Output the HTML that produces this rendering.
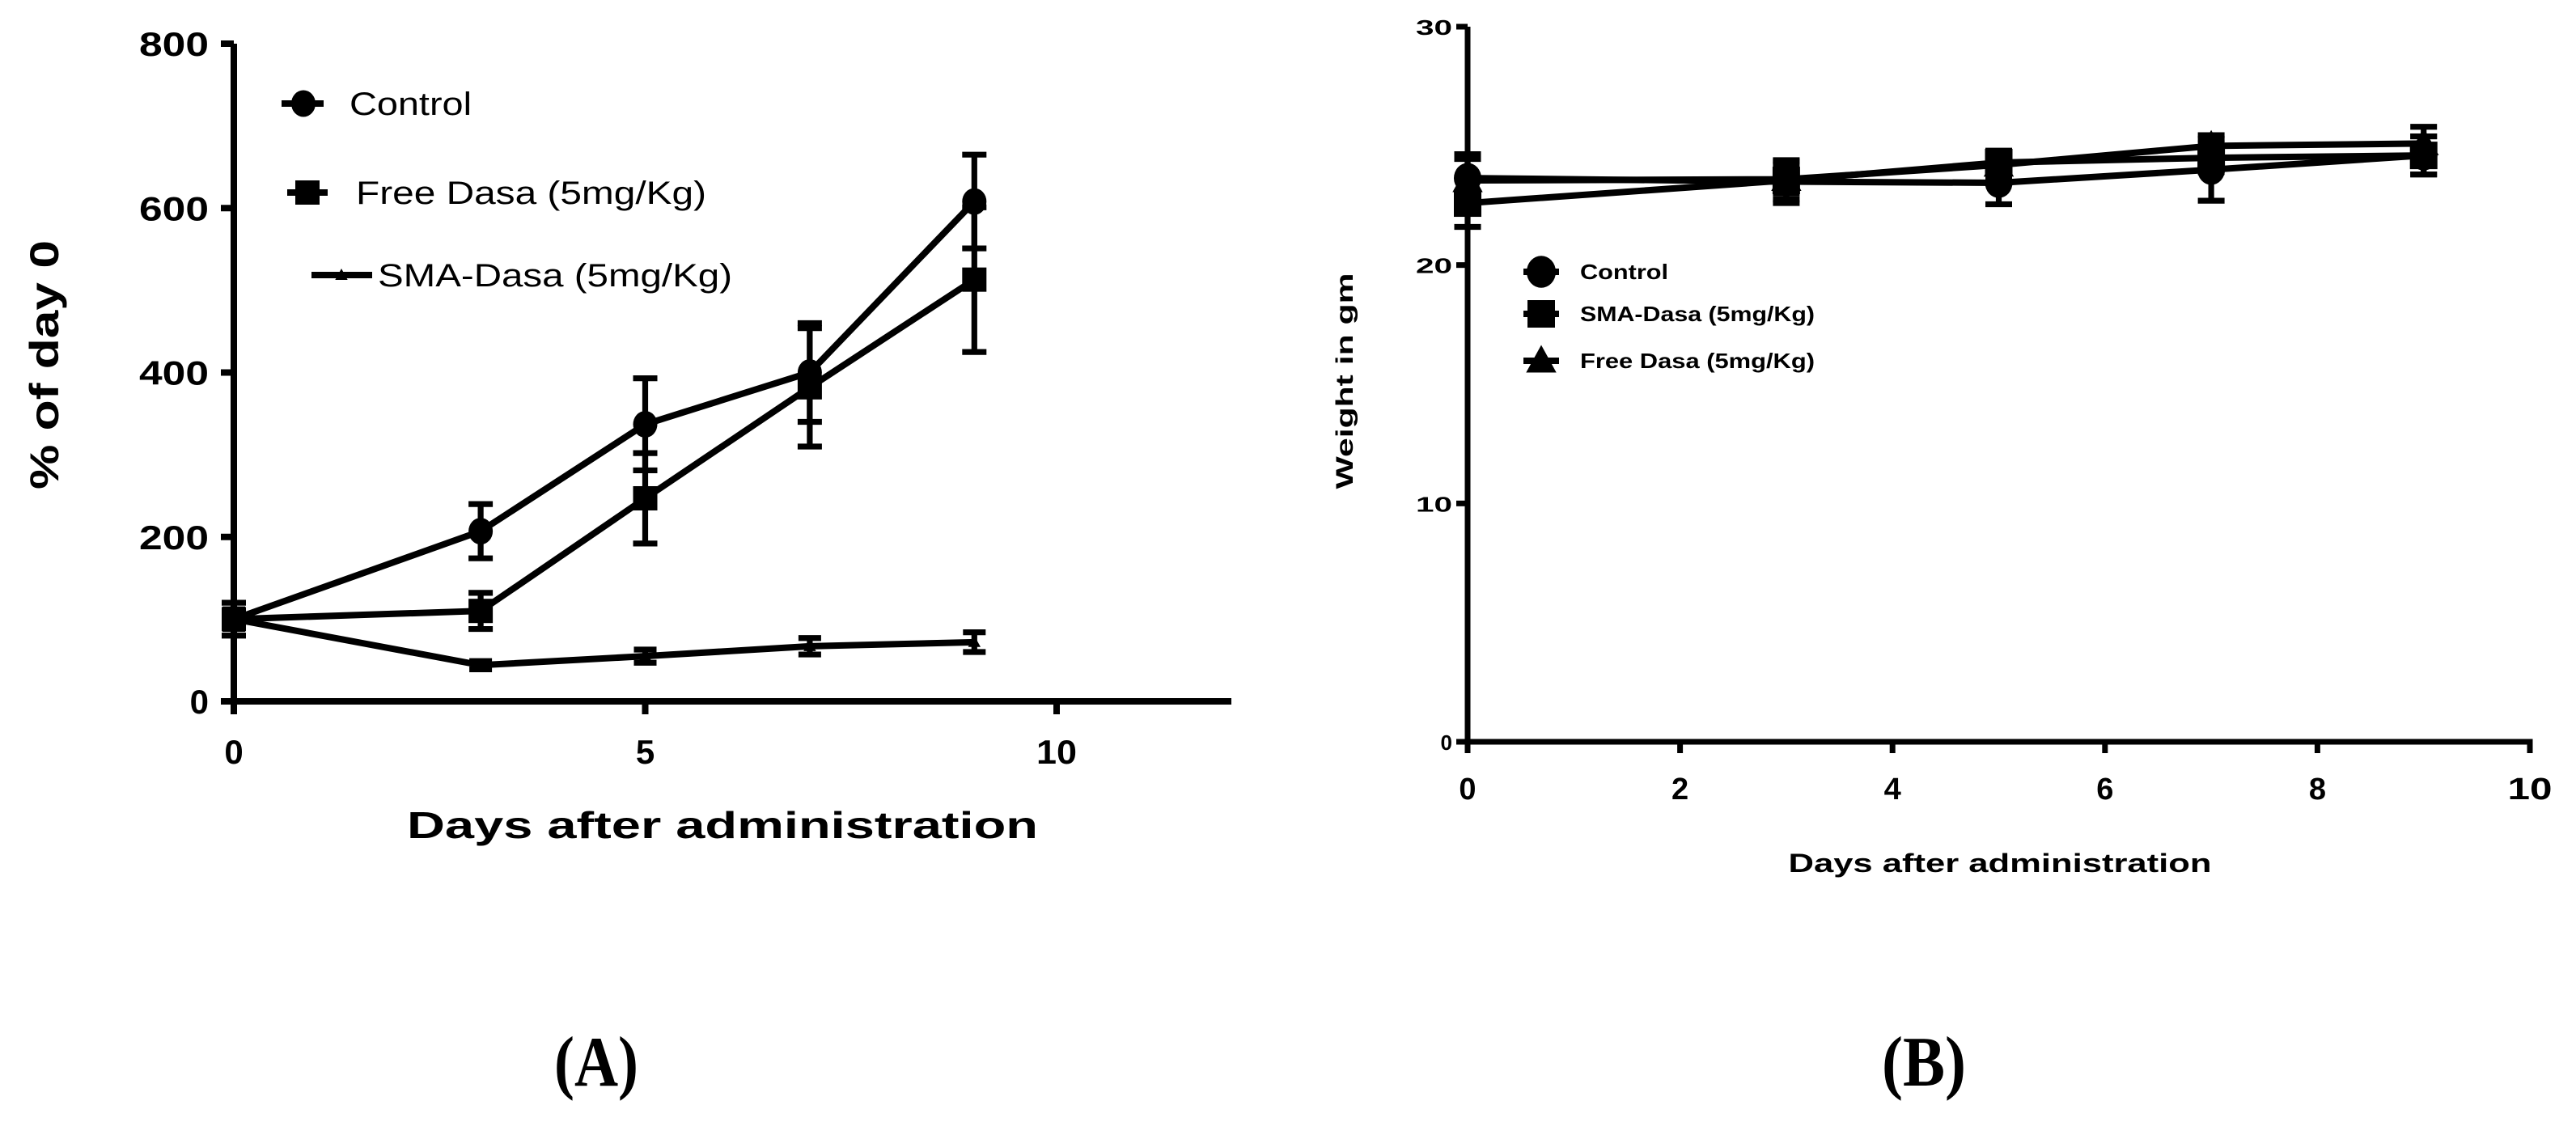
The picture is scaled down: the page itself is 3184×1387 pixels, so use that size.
<!DOCTYPE html>
<html><head><meta charset="utf-8"><style>
html,body{margin:0;padding:0;background:#fff;}
svg{display:block;}
text{font-family:"Liberation Sans",sans-serif;font-weight:bold;fill:#000;}
.lgA text{font-weight:normal;}
</style></head><body>
<svg id="fig" width="3184" height="1387" viewBox="0 0 3184 1387" xmlns="http://www.w3.org/2000/svg">
<g id="pa"></g>
<g id="pb"></g>
<text x="737" y="1342" font-family="Liberation Serif" font-size="88" text-anchor="middle" textLength="104" lengthAdjust="spacingAndGlyphs" style="font-family:'Liberation Serif',serif">(A)</text>
<text x="2378" y="1342" font-family="Liberation Serif" font-size="88" text-anchor="middle" textLength="104" lengthAdjust="spacingAndGlyphs" style="font-family:'Liberation Serif',serif">(B)</text>
</svg>
<script>
// Panel A data
const daysA = [0, 3, 5, 7, 9];
const ctrlA = [100, 207, 337, 400, 608];
const ctrlAerr = [20, 33, 56, 60, 57];
const freeA = [100, 110, 247, 382, 513];
const freeAerr = [20, 22, 55, 72, 88];
const smaA = [100, 44, 55, 67, 72];
const smaAerr = [12, 5, 8, 10, 12];
const yTicksA = [0, 200, 400, 600, 800];
const xTicksA = [0, 5, 10];
// Panel B data
const daysB = [0, 3, 5, 7, 9];
const ctrlB = [23.65, 23.5, 23.45, 24.0, 24.6];
const ctrlBerr = [1.0, 0.9, 0.9, 1.3, 0.8];
const smaB = [22.6, 23.55, 24.3, 24.5, 24.6];
const smaBerr = [1.0, 0.8, 0.5, 0.6, 0.8];
const freeB = [23.55, 23.6, 24.2, 25.0, 25.1];
const freeBerr = [0.9, 0.6, 0.5, 0.45, 0.7];
const yTicksB = [0, 10, 20, 30];
const xTicksB = [0, 2, 4, 6, 8, 10];

const NS = 'http://www.w3.org/2000/svg';
function mk(parent, tag, attrs){const e=document.createElementNS(NS,tag);for(const k in attrs)e.setAttribute(k,attrs[k]);parent.appendChild(e);return e;}

const xA = v => 289 + v * 101.7;
const yA = v => 867 - v * (813 / 800);
const xB = v => 1814 + v * 131.3;
const yB = v => 917 - v * (884 / 30);

function marker(g, shape, cx, cy, s){
  let m;
  if(shape==='circle') m=mk(g,'ellipse',{cx:cx,cy:cy,rx:s,ry:s*1.1});
  else if(shape==='square') m=mk(g,'rect',{x:cx-s,y:cy-s,width:2*s,height:2*s});
  else m=mk(g,'polygon',{points:`${cx},${cy-s*1.15} ${cx+s*1.1},${cy+s*0.85} ${cx-s*1.1},${cy+s*0.85}`});
  m.setAttribute('fill','#000');
  return m;
}

function series(g, name, xs, ys, errs, xf, yf, shape, size, lw, capw){
  const sg=mk(g,'g',{});
  
  
  const pts=xs.map((d,i)=>xf(d)+','+yf(ys[i])).join(' ');
  const pl=mk(sg,'polyline',{points:pts,fill:'none',stroke:'#000','stroke-width':lw,'stroke-linejoin':'miter'});
  
  
  xs.forEach((d,i)=>{
    const cx=xf(d), t=yf(ys[i]+errs[i]), b=yf(ys[i]-errs[i]);
    const eb=mk(sg,'path',{d:`M${cx},${t}V${b}M${cx-capw/2},${t}H${cx+capw/2}M${cx-capw/2},${b}H${cx+capw/2}`,stroke:'#000','stroke-width':lw*0.9,fill:'none'});
    
    
    const m=marker(sg,shape,cx,yf(ys[i]),size);
    
    
  });
}

function txt(g, x, y, s, size, anchor, len, rot){
  const t=mk(g,'text',{x:x,y:y,'font-size':size,'text-anchor':anchor||'start'});
  if(len){t.setAttribute('textLength',len);t.setAttribute('lengthAdjust','spacingAndGlyphs');}
  if(rot) t.setAttribute('transform',`rotate(-90 ${x} ${y})`);
  t.textContent=s;return t;
}

// ---- Panel A ----
const pa=document.getElementById('pa');
let ax=mk(pa,'path',{d:`M${xA(0)},${yA(800)}V${yA(0)}H1522`,stroke:'#000','stroke-width':8,fill:'none'});


yTicksA.forEach(v=>{
  mk(pa,'path',{d:`M${xA(0)-16},${yA(v)}H${xA(0)}`,stroke:'#000','stroke-width':8});
  const t=txt(pa,258,yA(v)+15,String(v),42,'end',v===0?null:86);
  
  
});
xTicksA.forEach(v=>{
  mk(pa,'path',{d:`M${xA(v)},${yA(0)}V${yA(0)+16}`,stroke:'#000','stroke-width':8});
  const t=txt(pa,xA(v),944,String(v),42,'middle',v===10?50:null);
  
  
});
let t1=txt(pa,893,1036,'Days after administration',46,'middle',780);


let t2=txt(pa,72,451,'% of day 0',50,'middle',308,true);


series(pa,'series-sma-dasa',daysA,smaA,smaAerr,xA,yA,'triangle',7,8,28);
series(pa,'series-free-dasa',daysA,freeA,freeAerr,xA,yA,'square',15,8,30);
series(pa,'series-control',daysA,ctrlA,ctrlAerr,xA,yA,'circle',15,8,30);
const lgA=mk(pa,'g',{class:'lgA'});


mk(lgA,'path',{d:'M348,128H400M355,238H405M385,340H460',stroke:'#000','stroke-width':8});
marker(lgA,'circle',375,128,15);
marker(lgA,'square',380,238,15);
marker(lgA,'triangle',422,340,7);
txt(lgA,432,142,'Control',40,'start',151);
txt(lgA,440,252,'Free Dasa (5mg/Kg)',40,'start',433);
txt(lgA,467,354,'SMA-Dasa (5mg/Kg)',40,'start',438);

// ---- Panel B ----
const pb=document.getElementById('pb');
let bx=mk(pb,'path',{d:`M${xB(0)},${yB(30)}V${yB(0)}H${xB(10)}V${yB(0)+14}`,stroke:'#000','stroke-width':7,fill:'none'});


yTicksB.forEach(v=>{
  mk(pb,'path',{d:`M${xB(0)-14},${yB(v)}H${xB(0)}`,stroke:'#000','stroke-width':7});
  const t=txt(pb,1795,yB(v)+10,String(v),26,'end',v===0?null:45);
  
  
});
xTicksB.forEach(v=>{
  mk(pb,'path',{d:`M${xB(v)},${yB(0)}V${yB(0)+14}`,stroke:'#000','stroke-width':7});
  const t=txt(pb,xB(v),988,String(v),38,'middle',v===10?55:null);
  
  
});
let t3=txt(pb,2472,1078,'Days after administration',32,'middle',523);


let t4=txt(pb,1672,471,'Weight in gm',30,'middle',267,true);


series(pb,'series-b-free-dasa',daysB,freeB,freeBerr,xB,yB,'triangle',17,8,33);
series(pb,'series-b-sma-dasa',daysB,smaB,smaBerr,xB,yB,'square',17,8,33);
series(pb,'series-b-control',daysB,ctrlB,ctrlBerr,xB,yB,'circle',17,8,33);
const lgB=mk(pb,'g',{});


mk(lgB,'path',{d:'M1883,336H1927M1883,388H1927M1883,446H1927',stroke:'#000','stroke-width':8});
marker(lgB,'circle',1905,336,18);
marker(lgB,'square',1905,388,17);
marker(lgB,'triangle',1905,446,17);
txt(lgB,1953,345,'Control',26,'start',109);
txt(lgB,1953,397,'SMA-Dasa (5mg/Kg)',26,'start',290);
txt(lgB,1953,455,'Free Dasa (5mg/Kg)',26,'start',290);
</script>
</body></html>
